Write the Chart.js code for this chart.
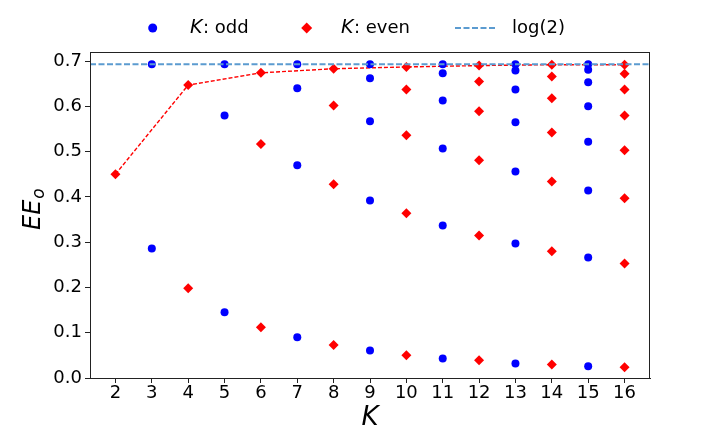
<!DOCTYPE html>
<html lang="en">
<head>
  <meta charset="UTF-8">
  <title>EE_o vs K</title>
  <script src="https://cdn.jsdelivr.net/npm/chart.js"></script>
  <style>
    html, body { margin: 0; padding: 0; background: #fff; }
    #wrap { width: 720px; height: 432px; }
  </style>
</head>
<body>
  <div id="wrap"><canvas id="eeChart" width="720" height="432"></canvas></div>

  <script>
    // K values and the EE_o values read for each K
    const kOdd = [3, 5, 7, 9, 11, 13, 15];
    const eeOdd = [
      [0.693, 0.286],
      [0.693, 0.580, 0.145],
      [0.693, 0.640, 0.470, 0.090],
      [0.693, 0.662, 0.567, 0.392, 0.061],
      [0.693, 0.673, 0.613, 0.507, 0.337, 0.043],
      [0.693, 0.679, 0.637, 0.565, 0.456, 0.297, 0.032],
      [0.693, 0.681, 0.653, 0.600, 0.522, 0.414, 0.266, 0.026]
    ];
    const kEven = [2, 4, 6, 8, 10, 12, 14, 16];
    const eeEven = [
      [0.450],
      [0.647, 0.198],
      [0.674, 0.517, 0.112],
      [0.683, 0.602, 0.428, 0.073],
      [0.687, 0.637, 0.536, 0.364, 0.050],
      [0.690, 0.655, 0.589, 0.481, 0.315, 0.039],
      [0.692, 0.666, 0.618, 0.542, 0.434, 0.280, 0.030],
      [0.692, 0.672, 0.637, 0.580, 0.503, 0.397, 0.253, 0.024]
    ];
    const LOG2 = Math.log(2);

    const xTicks = [2, 3, 4, 5, 6, 7, 8, 9, 10, 11, 12, 13, 14, 15, 16];
    const yTicks = [0, 0.1, 0.2, 0.3, 0.4, 0.5, 0.6, 0.7];
    const xMin = 1.3, xMax = 16.7;
    const yMin = 0, yMax = 0.72;

    const FONT = "'DejaVu Sans', sans-serif";
    const BLUE = '#0000ff';
    const RED = '#ff0000';
    const LOGBLUE = '#5b9bd0';

    const oddPoints = [];
    kOdd.forEach((k, i) => eeOdd[i].forEach(v => oddPoints.push({ x: k, y: v })));
    const evenPoints = [];
    kEven.forEach((k, i) => eeEven[i].forEach(v => evenPoints.push({ x: k, y: v })));
    const evenTop = kEven.map((k, i) => ({ x: k, y: eeEven[i][0] }));

    // frame, legend and axis titles (matplotlib look)
    const decor = {
      id: 'decor',
      afterDraw(chart) {
        const ctx = chart.ctx;
        const a = chart.chartArea;
        ctx.save();
        ctx.strokeStyle = '#222';
        ctx.lineWidth = 1;
        ctx.strokeRect(a.left + 0.5, a.top + 0.5, a.right - a.left - 1, a.bottom - a.top);

        // legend
        const ly = 28;
        ctx.textBaseline = 'middle';
        ctx.fillStyle = BLUE;
        ctx.beginPath();
        ctx.arc(152.7, ly, 4.5, 0, Math.PI * 2);
        ctx.fill();

        ctx.fillStyle = RED;
        ctx.beginPath();
        ctx.moveTo(306.7, ly - 5.5);
        ctx.lineTo(312.2, ly);
        ctx.lineTo(306.7, ly + 5.5);
        ctx.lineTo(301.2, ly);
        ctx.closePath();
        ctx.fill();

        ctx.strokeStyle = LOGBLUE;
        ctx.lineWidth = 2;
        ctx.setLineDash([6, 2.5]);
        ctx.beginPath();
        ctx.moveTo(455, ly);
        ctx.lineTo(495, ly);
        ctx.stroke();
        ctx.setLineDash([]);

        const mixed = (x, rest) => {
          ctx.fillStyle = '#000';
          ctx.font = 'italic 19px ' + FONT;
          ctx.fillText('K', x, ly);
          const w = ctx.measureText('K').width;
          ctx.font = '18px ' + FONT;
          ctx.fillText(rest, x + w + 0.5, ly);
        };
        ctx.textAlign = 'left';
        mixed(190, ': odd');
        mixed(341, ': even');
        ctx.font = '18px ' + FONT;
        ctx.fillText('log(2)', 512, ly);

        // x title
        ctx.textAlign = 'center';
        ctx.font = 'italic 26px ' + FONT;
        ctx.fillText('K', (a.left + a.right) / 2, 418);

        // y title EE_o
        ctx.translate(40, 230);
        ctx.rotate(-Math.PI / 2);
        ctx.textAlign = 'left';
        ctx.textBaseline = 'alphabetic';
        ctx.font = 'italic 24px ' + FONT;
        ctx.fillText('EE', 0, 0);
        const ew = ctx.measureText('EE').width;
        ctx.font = 'italic 17px ' + FONT;
        ctx.fillText('o', ew + 1, 4);
        ctx.restore();
      }
    };

    new Chart(document.getElementById('eeChart'), {
      type: 'scatter',
      data: {
        datasets: [
          {
            label: 'log(2)',
            type: 'line',
            data: [{ x: xMin, y: LOG2 }, { x: xMax, y: LOG2 }],
            borderColor: LOGBLUE,
            borderWidth: 2,
            borderDash: [6, 2.5],
            pointRadius: 0,
            fill: false,
            order: 0
          },
          {
            label: 'even top',
            type: 'line',
            data: evenTop,
            borderColor: RED,
            borderWidth: 1.4,
            borderDash: [4, 2],
            pointRadius: 0,
            fill: false,
            tension: 0,
            order: 3
          },
          {
            label: 'K: odd',
            data: oddPoints,
            pointStyle: 'circle',
            pointRadius: 4,
            pointBackgroundColor: BLUE,
            pointBorderColor: BLUE,
            pointBorderWidth: 0,
            order: 2
          },
          {
            label: 'K: even',
            data: evenPoints,
            pointStyle: 'rectRot',
            pointRadius: 5,
            pointBackgroundColor: RED,
            pointBorderColor: RED,
            pointBorderWidth: 0,
            order: 1
          }
        ]
      },
      options: {
        responsive: false,
        animation: false,
        layout: { padding: { left: 0, top: 52, right: 70, bottom: 0 } },
        plugins: {
          legend: { display: false },
          tooltip: { enabled: false }
        },
        scales: {
          x: {
            type: 'linear',
            min: xMin,
            max: xMax,
            afterBuildTicks: s => { s.ticks = xTicks.map(v => ({ value: v })); },
            afterFit: s => { s.height = 54; },
            ticks: {
              color: '#000',
              font: { family: FONT, size: 18 },
              padding: 0,
              maxRotation: 0,
              autoSkip: false
            },
            grid: { drawOnChartArea: false, tickLength: 5, color: '#222' },
            border: { color: '#222' }
          },
          y: {
            type: 'linear',
            min: yMin,
            max: yMax,
            afterBuildTicks: s => { s.ticks = yTicks.map(v => ({ value: v })); },
            afterFit: s => { s.width = 90; },
            ticks: {
              color: '#000',
              font: { family: FONT, size: 18 },
              padding: 3,
              callback: v => v.toFixed(1)
            },
            grid: { drawOnChartArea: false, tickLength: 5, color: '#222' },
            border: { color: '#222' }
          }
        }
      },
      plugins: [decor]
    });
  </script>
</body>
</html>
